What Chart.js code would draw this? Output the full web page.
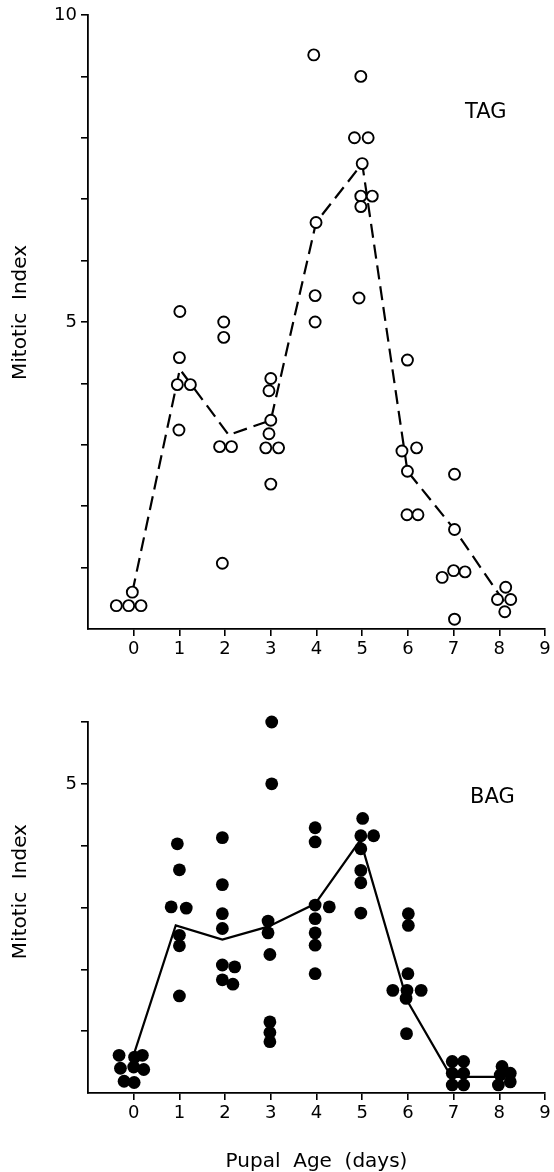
<!DOCTYPE html>
<html><head><meta charset="utf-8">
<script src="https://cdn.jsdelivr.net/npm/chart.js@4.4.1/dist/chart.umd.min.js"></script>
<style>
html,body{margin:0;padding:0;background:#fff;width:554px;height:1172px;overflow:hidden;}
.wrap{position:absolute;left:0;width:554px;}
canvas{display:block;}
.lbl{position:absolute;font-family:"DejaVu Sans";font-size:21px;color:#000;line-height:21px;white-space:nowrap;}
</style></head><body>
<div class="wrap" style="top:0;height:680px"><canvas id="c1" width="554" height="680"></canvas></div>
<div class="wrap" style="top:680px;height:492px"><canvas id="c2" width="554" height="492"></canvas></div>
<div class="lbl" style="left:465px;top:101px">TAG</div>
<div class="lbl" style="left:470px;top:786px">BAG</div>
<script>
// ---- tick labels ----
const xTickLabels = ['0','1','2','3','4','5','6','7','8','9'];
const tagYTickLabels = ['','','','','','5','','','','','10'];
const bagYTickLabels = ['','','','','','5',''];
const yTitle = 'Mitotic  Index';
const xTitle = 'Pupal  Age  (days)';

// ---- TAG individual values (open circles) ----
const tagX = [-0.38,-0.11,0.16,-0.03,
  1.01,1.0,0.955,1.24,0.99,
  1.97,1.97,1.88,2.14,1.94,
  3.0,2.96,3.0,2.96,2.89,3.17,3.0,
  3.94,3.99,3.97,3.97,
  4.97,4.83,5.13,5.0,4.97,5.22,4.97,4.93,
  5.99,5.87,6.19,5.99,5.98,6.22,
  7.02,7.02,6.75,7.0,7.25,7.02,
  8.14,7.96,8.25,8.12];
const tagY = [0.38,0.38,0.38,0.6,
  5.17,4.42,3.98,3.98,3.24,
  5.0,4.75,2.97,2.97,1.07,
  4.08,3.88,3.4,3.18,2.95,2.95,2.36,
  9.35,6.62,5.43,5.0,
  9.0,8.0,8.0,7.58,7.05,7.05,6.88,5.39,
  4.38,2.9,2.95,2.57,1.86,1.86,
  2.52,1.62,0.84,0.95,0.93,0.16,
  0.68,0.48,0.48,0.28];
// ---- TAG mean (dashed line) ----
const tagMeanX = [-0.03,1.01,2.08,3.0,3.99,5.0,5.99,7.02,8.1];
const tagMeanY = [0.6,4.23,3.16,3.4,6.62,7.58,2.57,1.62,0.45];

// ---- BAG individual values (filled circles) ----
const bagX = [-0.32,0.02,0.19,-0.29,0.0,0.22,-0.21,0.01,
  0.955,1.0,0.82,1.15,1.0,1.0,1.0,
  1.94,1.94,1.94,1.94,1.94,2.21,1.94,2.17,
  3.02,3.02,2.94,2.94,2.98,2.98,2.98,2.98,
  3.97,3.97,3.97,4.28,3.97,3.97,3.97,3.97,
  4.97,5.01,4.97,5.25,4.97,4.97,4.97,4.97,
  6.01,6.01,6.0,5.67,5.98,6.29,5.96,5.97,
  6.97,7.22,6.97,7.22,6.97,7.22,
  8.06,8.24,8.24,7.98,8.02];
const bagY = [0.61,0.58,0.61,0.4,0.42,0.38,0.19,0.17,
  4.03,3.61,3.01,2.99,2.55,2.38,1.57,
  4.13,3.37,2.9,2.66,2.07,2.04,1.83,1.76,
  6.0,5.0,2.78,2.59,2.24,1.15,0.98,0.83,
  4.29,4.06,3.04,3.01,2.82,2.59,2.39,1.93,
  6.13,4.44,4.16,4.16,3.95,3.6,3.4,2.91,
  2.9,2.71,1.93,1.66,1.66,1.66,1.53,0.96,
  0.51,0.51,0.32,0.32,0.13,0.13,
  0.43,0.32,0.18,0.13,0.29];
// ---- BAG mean (solid line) ----
const bagMeanX = [0.01,0.92,1.94,2.94,3.97,4.96,5.98,6.95,8.0];
const bagMeanY = [0.64,2.71,2.48,2.69,3.06,4.09,1.5,0.26,0.26];

const pts = (xs, ys) => xs.map((x, i) => ({x: x, y: ys[i]}));
const FONT = 'DejaVu Sans';
const BLACK = '#000';
const HIDE = 'rgba(0,0,0,0)';

function scales(opts) {
  return {
    x: {
      type: 'linear', min: -1, max: 9,
      ticks: {stepSize: 1, autoSkip: false, maxRotation: 0, color: BLACK, padding: 3,
        font: {family: FONT, size: 18},
        callback: v => (xTickLabels[v] !== undefined ? xTickLabels[v] : '')},
      grid: {display: true, drawOnChartArea: false, drawTicks: true, tickLength: 7,
        lineWidth: 1.6,
        color: c => (c.tick && c.tick.value < 0 ? HIDE : BLACK),
        tickColor: c => (c.tick && c.tick.value < 0 ? HIDE : BLACK)},
      border: {display: true, color: BLACK, width: 1.8},
      title: opts.xTitle ? {display: true, text: xTitle, color: BLACK,
        font: {family: FONT, size: 20, lineHeight: 1}, padding: {top: 0, bottom: 0}} : {display: false},
      afterFit: s => { s.height = opts.xH; s.paddingLeft = 0; s.paddingRight = 0; }
    },
    y: {
      type: 'linear', min: 0, max: opts.yMax,
      ticks: {stepSize: 1, autoSkip: false, color: BLACK, padding: 4,
        font: {family: FONT, size: 18},
        callback: v => (opts.yLabels[v] !== undefined ? opts.yLabels[v] : '')},
      grid: {display: true, drawOnChartArea: false, drawTicks: true, tickLength: 7,
        lineWidth: 1.6,
        color: c => (c.tick && c.tick.value === 0 ? HIDE : BLACK),
        tickColor: c => (c.tick && c.tick.value === 0 ? HIDE : BLACK)},
      border: {display: true, color: BLACK, width: 1.8},
      title: {display: true, text: opts.yTitleText, color: BLACK,
        font: {family: FONT, size: 20, lineHeight: 1.2}, padding: {top: 9, bottom: 0}},
      afterFit: s => { s.width = 88; s.paddingTop = 0; s.paddingBottom = 0; }
    }
  };
}

const common = {
  responsive: false, animation: false, events: [],
  plugins: {legend: {display: false}, tooltip: {enabled: false}}
};

new Chart(document.getElementById('c1'), {
  type: 'scatter',
  data: {datasets: [
    {data: pts(tagX, tagY), order: 1, pointStyle: 'circle', pointRadius: 5.5,
      pointBorderWidth: 1.9, pointBorderColor: BLACK, pointBackgroundColor: '#fff',
      showLine: false, clip: false},
    {data: pts(tagMeanX, tagMeanY), order: 2, showLine: true, pointRadius: 0,
      borderColor: BLACK, borderWidth: 2.2, borderDash: [14, 7], fill: false, clip: false}
  ]},
  options: Object.assign({}, common, {
    layout: {padding: {left: 0, right: 9, top: 15, bottom: 0}},
    scales: scales({xH: 51, yMax: 10, yLabels: tagYTickLabels, xTitle: false,
      yTitleText: '   ' + yTitle})
  })
});

new Chart(document.getElementById('c2'), {
  type: 'scatter',
  data: {datasets: [
    {data: pts(bagX, bagY), order: 1, pointStyle: 'circle', pointRadius: 6.4,
      pointBorderWidth: 0, pointBackgroundColor: BLACK, showLine: false, clip: false},
    {data: pts(bagMeanX, bagMeanY), order: 2, showLine: true, pointRadius: 0,
      borderColor: BLACK, borderWidth: 2.2, fill: false, clip: false}
  ]},
  options: Object.assign({}, common, {
    layout: {padding: {left: 0, right: 9, top: 42, bottom: 0}},
    scales: scales({xH: 79, yMax: 6, yLabels: bagYTickLabels, xTitle: true,
      yTitleText: '     ' + yTitle})
  })
});
</script>
</body></html>
